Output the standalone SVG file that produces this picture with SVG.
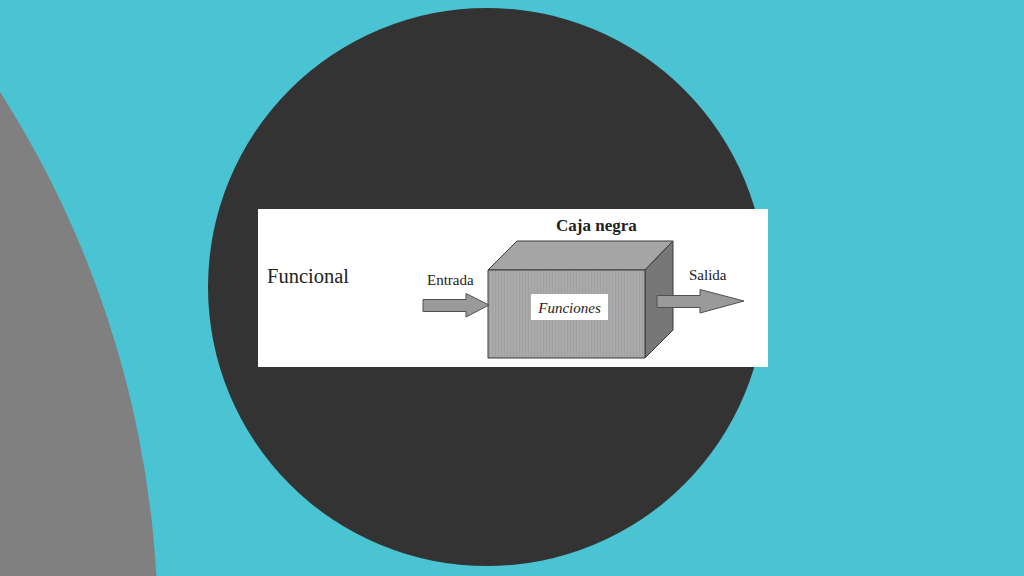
<svg xmlns="http://www.w3.org/2000/svg" width="1024" height="576" viewBox="0 0 1024 576">
  <style>
    .serif { font-family: "Liberation Serif", "Times New Roman", serif; fill: #222; }
    .face { stroke: #3a3a3a; stroke-width: 1; stroke-linejoin: round; }
    .arrow { fill: #9a9a9a; stroke: #505050; stroke-width: 1; stroke-linejoin: miter; }
  </style>
  <defs>
    <pattern id="stripes" width="3" height="4" patternUnits="userSpaceOnUse">
      <rect width="3" height="4" fill="#aaaaaa"/>
      <rect width="1" height="4" fill="#a0a0a0"/>
    </pattern>
  </defs>
  <rect width="1024" height="576" fill="#4AC3D2"/>
  <circle cx="-848" cy="633" r="1006" fill="#808080"/>
  <circle cx="487" cy="287" r="279" fill="#333333"/>
  <rect x="258" y="209" width="510" height="158" fill="#ffffff"/>

  <g id="label-funcional">
    <text class="serif" x="267" y="283" font-size="20.5">Funcional</text>
  </g>

  <g id="caja-negra">
    <polygon class="face" points="488,270 517,241 673,241 645,270" fill="#a5a5a5"/>
    <polygon class="face" points="645,270 673,241 673,330 645,358" fill="#777777"/>
    <rect class="face" x="488" y="270" width="157" height="88" fill="url(#stripes)"/>
    <text class="serif" x="556" y="231" font-size="17" font-weight="bold">Caja negra</text>
    <rect x="531" y="294" width="77" height="26" fill="#ffffff"/>
    <text class="serif" x="569.5" y="313" font-size="15" font-style="italic" text-anchor="middle">Funciones</text>
  </g>

  <g id="connectors">
    <polygon class="arrow" points="423,299.5 466,299.5 466,293.5 489,305 466,317 466,311.5 423,311.5"/>
    <polygon class="arrow" points="657,295.5 700,295.5 700,289.5 744,301 700,313 700,307.5 657,307.5"/>
  </g>

  <g id="label-entrada">
    <text class="serif" x="427" y="285" font-size="15">Entrada</text>
  </g>
  <g id="label-salida">
    <text class="serif" x="689" y="280" font-size="15">Salida</text>
  </g>
</svg>
